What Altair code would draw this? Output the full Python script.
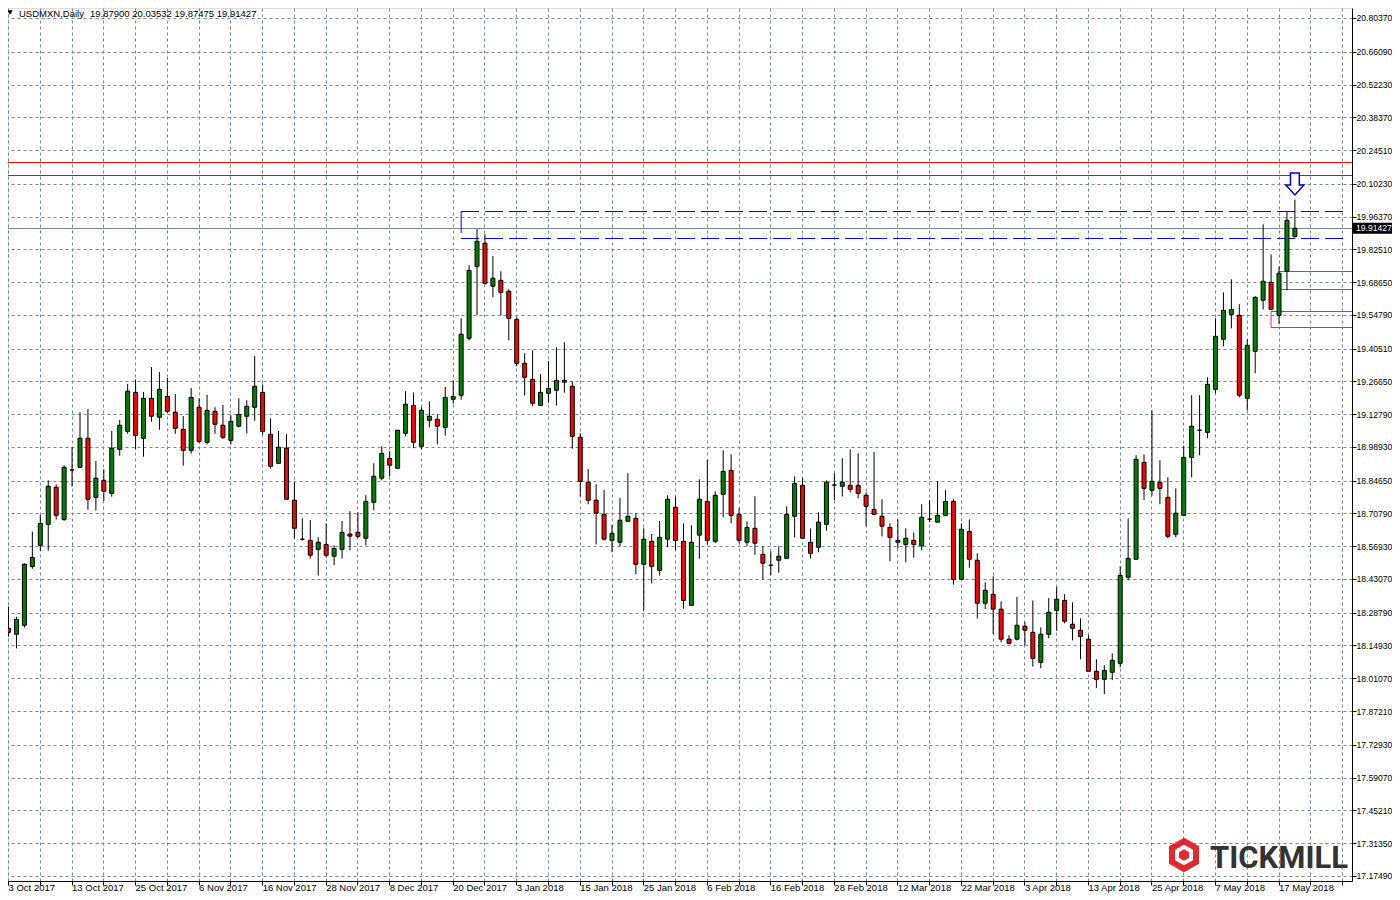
import altair as alt
import pandas as pd

# ---------------- data (USDMXN daily candles) ----------------
opens = [18.222, 18.197, 18.235, 18.483, 18.573, 18.662, 18.819, 18.682, 18.892, 18.903,
         19.026, 18.776, 18.848, 18.793, 18.979, 19.055, 19.220, 19.026, 19.195, 19.115,
         19.203, 19.136, 19.064, 18.975, 19.157, 19.009, 19.140, 19.081, 19.017, 19.077,
         19.119, 19.157, 19.220, 19.043, 18.920, 18.984, 18.764, 18.599, 18.594, 18.556,
         18.577, 18.527, 18.556, 18.621, 18.628, 18.603, 18.755, 18.857, 18.941, 18.899,
         19.047, 19.165, 18.992, 19.102, 19.106, 19.072, 19.191, 19.208, 19.449, 19.753,
         19.851, 19.669, 19.694, 19.648, 19.529, 19.343, 19.275, 19.165, 19.216, 19.229,
         19.271, 19.246, 19.030, 18.840, 18.764, 18.704, 18.594, 18.586, 18.675, 18.687,
         18.493, 18.590, 18.467, 18.599, 18.734, 18.590, 18.319, 18.616, 18.759, 18.590,
         18.789, 18.890, 18.704, 18.586, 18.645, 18.535, 18.489, 18.510, 18.518, 18.696,
         18.827, 18.586, 18.565, 18.662, 18.828, 18.823, 18.827, 18.827, 18.785, 18.725,
         18.696, 18.649, 18.594, 18.577, 18.594, 18.571, 18.684, 18.671, 18.700, 18.759,
         18.429, 18.632, 18.510, 18.328, 18.366, 18.303, 18.176, 18.176, 18.231, 18.205,
         18.078, 18.197, 18.298, 18.340, 18.239, 18.214, 18.176, 18.040, 18.006, 18.036,
         18.074, 18.438, 18.514, 18.924, 18.806, 18.840, 18.776, 18.620, 18.700, 18.945,
         19.060, 19.051, 19.233, 19.445, 19.550, 19.546, 19.195, 19.394, 19.610, 19.686,
         19.546, 19.732, 19.879]
highs = [18.314, 18.271, 18.497, 18.631, 18.701, 18.848, 18.831, 18.912, 18.988, 19.136,
         19.149, 18.930, 18.895, 19.057, 19.103, 19.256, 19.275, 19.222, 19.327, 19.306,
         19.281, 19.213, 19.120, 19.239, 19.195, 19.209, 19.157, 19.167, 19.124, 19.195,
         19.187, 19.374, 19.254, 19.110, 19.057, 19.044, 18.840, 18.687, 18.680, 18.607,
         18.666, 18.573, 18.676, 18.717, 18.713, 18.785, 18.920, 18.992, 18.971, 19.060,
         19.225, 19.220, 19.157, 19.182, 19.127, 19.243, 19.271, 19.533, 19.758, 19.911,
         19.889, 19.797, 19.732, 19.656, 19.538, 19.385, 19.398, 19.297, 19.352, 19.411,
         19.432, 19.267, 19.047, 18.895, 18.831, 18.807, 18.659, 18.773, 18.878, 18.709,
         18.645, 18.621, 18.676, 18.785, 18.779, 18.666, 18.658, 18.852, 18.934, 18.802,
         18.975, 18.958, 18.730, 18.675, 18.781, 18.569, 18.548, 18.569, 18.738, 18.865,
         18.857, 18.645, 18.713, 18.848, 18.878, 18.941, 18.979, 18.962, 18.797, 18.968,
         18.768, 18.666, 18.683, 18.645, 18.628, 18.747, 18.764, 18.845, 18.807, 18.768,
         18.666, 18.683, 18.539, 18.417, 18.442, 18.336, 18.193, 18.355, 18.248, 18.340,
         18.226, 18.350, 18.397, 18.366, 18.332, 18.264, 18.193, 18.091, 18.066, 18.116,
         18.484, 18.687, 18.954, 18.958, 19.144, 18.933, 18.861, 18.814, 18.994, 19.208,
         19.208, 19.284, 19.533, 19.643, 19.698, 19.593, 19.445, 19.627, 19.931, 19.804,
         19.753, 19.983, 20.03532]
lows = [18.187, 18.137, 18.225, 18.474, 18.550, 18.550, 18.682, 18.677, 18.821, 18.900,
        18.724, 18.720, 18.761, 18.779, 18.952, 19.045, 18.979, 18.948, 19.096, 19.062,
        19.132, 19.045, 18.910, 18.961, 19.005, 19.000, 19.045, 19.022, 18.999, 19.072,
        19.047, 19.100, 19.041, 18.897, 18.920, 18.768, 18.603, 18.593, 18.517, 18.445,
        18.522, 18.489, 18.517, 18.552, 18.603, 18.573, 18.721, 18.848, 18.865, 18.899,
        19.034, 18.984, 18.979, 19.072, 19.000, 19.037, 19.172, 19.189, 19.440, 19.547,
        19.677, 19.622, 19.544, 19.440, 19.330, 19.208, 19.161, 19.165, 19.176, 19.164,
        19.219, 18.982, 18.780, 18.747, 18.577, 18.594, 18.544, 18.569, 18.671, 18.451,
        18.298, 18.412, 18.445, 18.565, 18.553, 18.305, 18.319, 18.517, 18.577, 18.582,
        18.692, 18.666, 18.582, 18.569, 18.533, 18.429, 18.446, 18.457, 18.518, 18.607,
        18.603, 18.518, 18.544, 18.635, 18.764, 18.780, 18.797, 18.772, 18.654, 18.700,
        18.611, 18.506, 18.560, 18.501, 18.521, 18.552, 18.671, 18.671, 18.696, 18.407,
        18.429, 18.478, 18.264, 18.303, 18.198, 18.163, 18.154, 18.171, 18.150, 18.060,
        18.053, 18.180, 18.212, 18.243, 18.171, 18.091, 18.037, 17.970, 17.944, 18.003,
        18.057, 18.425, 18.514, 18.764, 18.783, 18.747, 18.603, 18.607, 18.696, 18.861,
        18.954, 19.026, 19.216, 19.415, 19.491, 19.199, 19.144, 19.301, 19.571, 19.567,
        19.508, 19.652, 19.87475]
closes = [18.205, 18.260, 18.493, 18.522, 18.666, 18.823, 18.700, 18.903, 18.892, 19.026,
          18.768, 18.857, 18.802, 18.984, 19.081, 19.225, 19.038, 19.195, 19.119, 19.233,
          19.140, 19.068, 18.975, 19.199, 19.013, 19.144, 19.085, 19.030, 19.098, 19.127,
          19.161, 19.246, 19.055, 18.907, 18.988, 18.768, 18.645, 18.599, 18.531, 18.586,
          18.531, 18.560, 18.628, 18.612, 18.611, 18.759, 18.865, 18.962, 18.912, 19.060,
          19.170, 19.009, 19.144, 19.119, 19.077, 19.199, 19.203, 19.466, 19.736, 19.859,
          19.681, 19.703, 19.643, 19.533, 19.343, 19.284, 19.174, 19.220, 19.237, 19.271,
          19.263, 19.034, 18.844, 18.764, 18.709, 18.599, 18.624, 18.679, 18.696, 18.493,
          18.599, 18.484, 18.607, 18.768, 18.594, 18.340, 18.586, 18.768, 18.594, 18.785,
          18.886, 18.700, 18.594, 18.649, 18.582, 18.497, 18.489, 18.527, 18.704, 18.835,
          18.603, 18.539, 18.671, 18.840, 18.828, 18.840, 18.810, 18.793, 18.738, 18.704,
          18.654, 18.607, 18.586, 18.603, 18.577, 18.692, 18.684, 18.700, 18.759, 18.429,
          18.641, 18.514, 18.328, 18.383, 18.303, 18.176, 18.159, 18.235, 18.214, 18.095,
          18.197, 18.290, 18.345, 18.252, 18.222, 18.188, 18.040, 18.006, 18.044, 18.087,
          18.446, 18.518, 18.937, 18.814, 18.844, 18.814, 18.611, 18.709, 18.945, 19.077,
          19.060, 19.254, 19.457, 19.567, 19.571, 19.208, 19.419, 19.622, 19.690, 19.571,
          19.724, 19.948, 19.91427]

date_labels = ["3 Oct 2017", "13 Oct 2017", "25 Oct 2017", "6 Nov 2017", "16 Nov 2017",
               "28 Nov 2017", "8 Dec 2017", "20 Dec 2017", "3 Jan 2018", "15 Jan 2018",
               "25 Jan 2018", "6 Feb 2018", "16 Feb 2018", "28 Feb 2018", "12 Mar 2018",
               "22 Mar 2018", "3 Apr 2018", "13 Apr 2018", "25 Apr 2018", "7 May 2018",
               "17 May 2018"]
price_ticks = [20.80370, 20.66090, 20.52230, 20.38370, 20.24510, 20.10230, 19.96370,
               19.82510, 19.68650, 19.54790, 19.40510, 19.26650, 19.12790, 18.98930,
               18.84650, 18.70790, 18.56930, 18.43070, 18.28790, 18.14930, 18.01070,
               17.87210, 17.72930, 17.59070, 17.45210, 17.31350, 17.17490]

# horizontal levels drawn on the chart
red_levels = [20.1925, 20.1375]
bid_price = 19.91427
blue_levels = [19.9852, 19.8710]
blue_v_bottom = 19.895
blue_start = 57
box_starts = [160, 159]
box_tops = [19.7314, 19.5622]
box_bottoms = [19.6552, 19.4945]
arrow_bar = 162
arrow_price = 20.1015
header_name = "USDMXN,Daily"
header_values = "19.87900 20.03532 19.87475 19.91427"

# ---------------- chart ----------------
W, H = 1344, 873
X_MIN, X_MAX = 0.625, 168.625
Y_MIN, Y_MAX = 17.1531, 20.8460
FONT = "Liberation Sans"
GRID = "#778899"
RFS = 8.6   # right-axis label size (must fit inside the page)

df = pd.DataFrame({"i": list(range(len(opens))), "open": opens, "high": highs,
                   "low": lows, "close": closes})

xs = alt.Scale(domain=[X_MIN, X_MAX], nice=False, zero=False)
ys = alt.Scale(domain=[Y_MIN, Y_MAX], nice=False, zero=False)

lab_arr = "[" + ",".join("'" + s + "'" for s in date_labels) + "]"
x_axis = alt.Axis(values=list(range(0, 169, 4)),
                  labelExpr="datum.value % 8 == 0 ? " + lab_arr + "[datum.value / 8] : ''",
                  grid=True, gridColor=GRID, gridDash=[3, 3], gridWidth=1,
                  domainColor="black", tickColor="black", tickSize=4,
                  labelFont=FONT, labelFontSize=9.5, labelColor="black",
                  labelAlign="left", labelBaseline="middle", labelPadding=2,
                  labelOverlap=False, labelFlush=False, title=None)
y_axis = alt.Axis(orient="right", values=price_ticks, format=".5f",
                  grid=True, gridColor=GRID, gridDash=[3, 3], gridWidth=1,
                  domainColor="black", tickColor="black", tickSize=4,
                  labelFont=FONT, labelFontSize=RFS, labelColor="black", labelPadding=0,
                  labelOverlap=False, labelFlush=False, title=None)

X = lambda f: alt.X(f, type="quantitative", scale=xs, axis=x_axis)
Y = lambda f: alt.Y(f, type="quantitative", scale=ys, axis=y_axis)

wicks = alt.Chart(df).mark_rule(color="black", strokeWidth=1, xOffset=0.5, clip=True).encode(
    x=X("i"), y=Y("low"), y2="high")

bodies = alt.Chart(df).mark_bar(size=4, stroke="black", strokeWidth=1, xOffset=0.5,
                                opacity=1, clip=True).encode(
    x=X("i"), y=Y("open"), y2="close",
    color=alt.condition("datum.close > datum.open", alt.value("#008000"), alt.value("#ff0000")))

red_df = pd.DataFrame({"p": red_levels})
red_lines = alt.Chart(red_df).mark_rule(color="#ff0000", strokeWidth=1).encode(y=Y("p"))

bid_df = pd.DataFrame({"p": [bid_price]})
bid_line = alt.Chart(bid_df).mark_rule(color=GRID, strokeWidth=1, yOffset=0.24).encode(y=Y("p"))

blue_df = pd.DataFrame({"p": blue_levels, "x0": [blue_start] * 2, "x1": [X_MAX] * 2})
blue_lines = alt.Chart(blue_df).mark_rule(color="#0000ff", strokeWidth=1,
                                          strokeDash=[18, 6], xOffset=0.5).encode(
    x=X("x0"), x2="x1", y=Y("p"))
blue_v_df = pd.DataFrame({"x": [blue_start], "p0": [blue_levels[0]], "p1": [blue_v_bottom]})
blue_v = alt.Chart(blue_v_df).mark_rule(color="#0000ff", strokeWidth=1, xOffset=0.5).encode(
    x=X("x"), y=Y("p0"), y2="p1")

box_df = pd.DataFrame({"x0": box_starts, "x1": [X_MAX + 5] * 2, "t": box_tops, "b": box_bottoms})
boxes = alt.Chart(box_df).mark_rect(fillOpacity=0, stroke="#cc22cc", strokeWidth=1,
                                    clip=True, xOffset=0.5).encode(
    x=X("x0"), x2="x1", y=Y("t"), y2="b")

arrow_df = pd.DataFrame({"i": [arrow_bar], "p": [arrow_price]})
arrow_path = "M-0.4,-1 L0.4,-1 L0.4,0.1 L0.82,0.1 L0,1 L-0.82,0.1 L-0.4,0.1 Z"
arrow = alt.Chart(arrow_df).mark_point(shape=arrow_path, size=484, filled=True, fill="white",
                                       stroke="#0000cc", strokeWidth=1.5, opacity=1,
                                       xOffset=0.5).encode(x=X("i"), y=Y("p"))

# current price label on the right axis
box_half = 0.0235
lab_df = pd.DataFrame({"p": [bid_price], "t": [bid_price + box_half], "b": [bid_price - box_half],
                       "txt": ["%.5f" % bid_price]})
price_box = alt.Chart(lab_df).mark_rect(color="black").encode(
    x=alt.value(W + 1), x2=alt.value(W + 40), y=Y("t"), y2="b")
price_txt = alt.Chart(lab_df).mark_text(color="white", font=FONT, fontSize=RFS, align="left",
                                        baseline="middle").encode(
    x=alt.value(W + 4), y=Y("p"), text="txt:N")

# header
hdr_df = pd.DataFrame({"name": [header_name], "vals": [header_values]})
hdr_tri = alt.Chart(hdr_df).mark_point(shape="triangle-down", size=30, filled=True,
                                       color="black", opacity=1).encode(
    x=alt.value(2), y=alt.value(4.5))
hdr_name = alt.Chart(hdr_df).mark_text(font=FONT, fontSize=9.5, color="black", align="left",
                                       baseline="middle").encode(
    x=alt.value(11), y=alt.value(6), text="name:N")
hdr_vals = alt.Chart(hdr_df).mark_text(font=FONT, fontSize=9.5, color="black", align="left",
                                       baseline="middle").encode(
    x=alt.value(82), y=alt.value(6), text="vals:N")

# logo
logo_df = pd.DataFrame({"t": ["TICKMILL"]})
hexagon = "M0,-1 L0.866,-0.5 L0.866,0.5 L0,1 L-0.866,0.5 L-0.866,-0.5 Z"
logo_hex = alt.Chart(logo_df).mark_point(shape=hexagon, size=1200, filled=True,
                                         color="#e0282e", opacity=1).encode(
    x=alt.value(1176), y=alt.value(847))
logo_inner = alt.Chart(logo_df).mark_point(shape=hexagon, size=260, filled=False,
                                           color="white", strokeWidth=4, opacity=1).encode(
    x=alt.value(1176), y=alt.value(847))
logo_txt = alt.Chart(logo_df).mark_text(font="Roboto", fontSize=31, fontWeight="bold",
                                        color="#333333", align="left",
                                        baseline="alphabetic").encode(
    x=alt.value(1202), y=alt.value(860), text="t:N")

chart = alt.layer(
    red_lines, bid_line, blue_lines, blue_v, boxes, wicks, bodies, arrow,
    price_box, price_txt, hdr_tri, hdr_name, hdr_vals, logo_hex, logo_inner, logo_txt
).properties(
    width=W, height=H,
    autosize=alt.AutoSizeParams(type="none"),
    padding={"left": 0, "top": 0, "right": 40, "bottom": 19}
).configure_view(
    strokeWidth=0
).configure(background="white")

chart.save("out.html", embed_options={"renderer": "svg", "actions": False})
